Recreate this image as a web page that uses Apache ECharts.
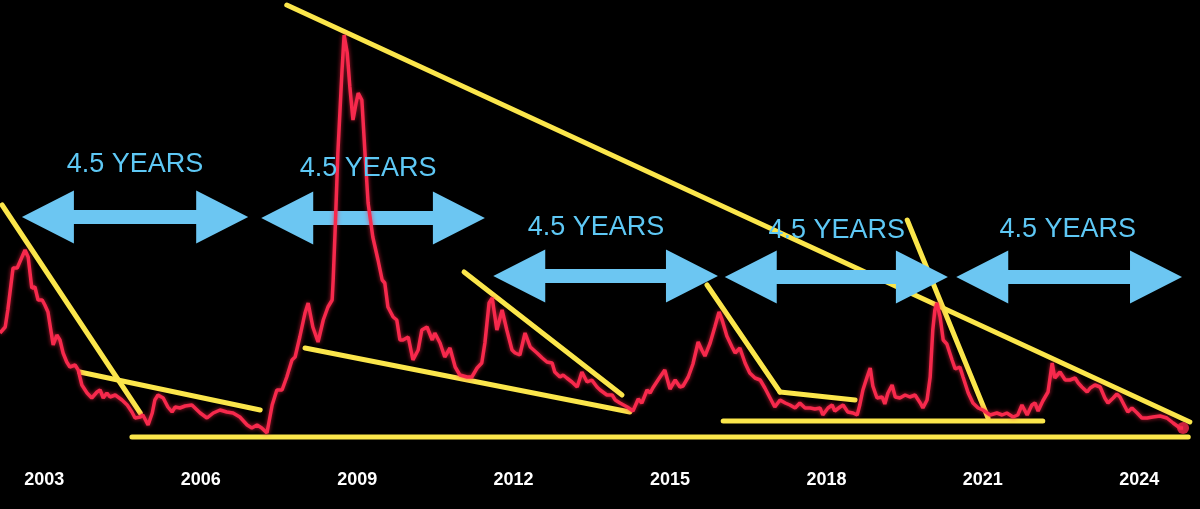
<!DOCTYPE html>
<html>
<head>
<meta charset="utf-8">
<script src="https://cdn.jsdelivr.net/npm/echarts@6/dist/echarts.min.js"></script>
<style>
  html, body { margin: 0; padding: 0; background: #000; }
  #chart { width: 1200px; height: 509px; }
</style>
</head>
<body>
<div id="chart"></div>
<script>
// Decimal years of the traced series
const dates = [
  2002.15,2002.25,2002.30,2002.40,2002.48,2002.53,2002.63,2002.69,2002.76,2002.82,2002.88,2002.96,
  2003.01,2003.07,2003.17,2003.24,2003.30,2003.36,2003.43,2003.49,2003.59,2003.65,2003.72,2003.82,2003.91,
  2004.01,2004.07,2004.13,2004.20,2004.26,2004.36,2004.49,2004.59,2004.68,2004.74,2004.84,2004.89,2004.99,
  2005.07,2005.12,2005.18,2005.28,2005.37,2005.45,2005.51,2005.60,2005.70,2005.83,2005.93,2005.99,
  2006.12,2006.24,2006.37,2006.50,2006.62,2006.75,2006.89,2006.98,
  2007.08,2007.17,2007.27,2007.37,2007.46,2007.56,2007.65,2007.75,2007.81,2007.90,
  2008.00,2008.06,2008.15,2008.25,2008.35,2008.44,2008.52,2008.54,2008.58,2008.63,2008.71,2008.75,2008.81,2008.86,2008.92,2008.98,
  2009.02,2009.09,2009.15,2009.21,2009.30,2009.40,2009.48,2009.53,2009.59,2009.69,2009.76,2009.82,2009.88,2009.98,
  2010.07,2010.17,2010.24,2010.34,2010.44,2010.49,2010.59,2010.68,2010.78,2010.88,2010.97,
  2011.11,2011.20,2011.30,2011.39,2011.45,2011.53,2011.59,2011.68,2011.78,2011.87,2011.97,
  2012.03,2012.12,2012.22,2012.32,2012.45,2012.55,2012.64,2012.74,2012.79,2012.89,2012.95,
  2013.02,2013.12,2013.22,2013.31,2013.41,2013.50,2013.60,2013.66,2013.79,2013.89,2013.95,
  2014.04,2014.18,2014.29,2014.39,2014.46,2014.56,2014.62,2014.67,2014.77,2014.90,
  2015.00,2015.10,2015.19,2015.25,2015.35,2015.44,2015.54,2015.61,2015.67,2015.77,2015.86,2015.94,
  2016.00,2016.09,2016.19,2016.25,2016.34,2016.44,2016.53,2016.63,2016.73,2016.82,2016.92,
  2017.01,2017.11,2017.21,2017.30,2017.40,2017.49,2017.59,2017.69,2017.78,2017.88,2017.93,
  2018.03,2018.11,2018.16,2018.26,2018.32,2018.41,2018.51,2018.59,2018.64,2018.70,2018.78,2018.84,2018.89,2018.97,
  2019.07,2019.12,2019.18,2019.26,2019.32,2019.41,2019.51,2019.60,2019.70,2019.80,2019.85,2019.93,2019.99,
  2020.04,2020.08,2020.12,2020.18,2020.24,2020.31,2020.41,2020.47,2020.56,2020.62,2020.72,2020.81,2020.91,
  2021.00,2021.14,2021.27,2021.37,2021.46,2021.58,2021.67,2021.75,2021.85,2021.94,
  2022.00,2022.06,2022.15,2022.25,2022.33,2022.38,2022.48,2022.58,2022.67,2022.77,2022.83,2022.90,
  2023.00,2023.06,2023.15,2023.25,2023.34,2023.40,2023.50,2023.57,2023.63,2023.73,2023.78,2023.86,2023.96,
  2024.05,2024.15,2024.26,2024.40,2024.53,2024.65,2024.78,2024.84
];
const values = [
  7.35,7.65,8.5,10.6,10.6,10.9,11.5,11.15,9.6,9.65,9.0,9.0,
  8.75,8.4,6.75,7.25,7.0,6.35,5.9,5.65,5.75,5.5,4.75,4.35,4.1,
  4.4,4.5,4.1,4.35,4.15,4.25,4.0,3.75,3.4,3.1,3.15,3.25,2.75,
  3.35,4.0,4.25,4.1,3.65,3.4,3.65,3.6,3.7,3.75,3.5,3.35,
  3.1,3.35,3.5,3.4,3.35,3.15,2.75,2.6,
  2.75,2.6,2.35,3.75,4.5,4.5,5.15,6.0,6.15,7.15,
  8.35,8.85,7.65,6.9,8.0,8.65,9.0,10.0,12.65,16.35,20.5,22.25,21.35,19.65,18.0,18.85,
  19.35,19.0,16.35,13.85,12.15,11.0,10.0,9.85,8.65,8.15,8.0,7.0,7.0,7.15,
  6.0,6.5,7.5,7.65,7.0,7.35,6.85,6.15,6.6,5.65,5.25,
  5.15,5.15,5.6,5.85,6.85,8.85,9.1,7.5,8.5,7.5,6.5,
  6.35,6.25,7.35,6.65,6.35,6.1,5.9,5.85,5.4,5.15,5.25,
  5.1,4.9,4.65,5.4,4.9,5.0,4.65,4.5,4.25,4.25,4.0,
  3.85,3.65,3.45,4.05,3.85,4.5,4.35,4.6,5.0,5.5,
  4.55,5.0,4.65,4.7,5.15,5.8,6.9,6.5,6.2,6.85,7.65,8.4,
  8.0,7.2,6.65,6.35,6.6,5.85,5.35,5.1,5.0,4.6,4.1,
  3.65,4.0,3.85,3.75,3.6,3.85,3.6,3.6,3.55,3.6,3.25,
  3.6,3.75,3.45,3.65,3.75,3.4,3.35,3.25,3.75,4.5,5.15,5.6,4.7,4.1,
  4.15,3.8,4.35,4.75,4.15,4.1,4.25,4.15,4.25,3.85,3.6,4.0,5.15,
  7.5,8.5,8.85,8.15,7.0,6.8,6.0,5.55,5.65,5.15,4.35,3.85,3.6,
  3.5,3.25,3.35,3.25,3.35,3.15,3.25,3.75,3.25,3.75,
  3.85,3.45,3.95,4.4,5.85,5.1,5.4,5.0,5.0,5.1,4.85,4.65,
  4.4,4.6,4.75,4.65,4.1,3.85,4.1,4.3,4.15,3.65,3.4,3.6,3.35,
  3.1,3.1,3.15,3.2,3.1,2.85,2.6,2.6
];
const yearTicks = [2003, 2006, 2009, 2012, 2015, 2018, 2021, 2024];

// Hand-drawn trend lines: [startYear, startValue, endYear, endValue]
const trendLines = [
  [2002.19, 13.75, 2004.84, 3.35],
  [2003.68, 5.4, 2007.14, 3.5],
  [2004.68, 2.15, 2024.94, 2.15],
  [2007.65, 23.75, 2024.97, 2.9],
  [2008.00, 6.6, 2014.23, 3.4],
  [2011.05, 10.4, 2014.08, 4.25],
  [2015.71, 9.75, 2017.11, 4.4],
  [2017.11, 4.4, 2018.55, 4.0],
  [2016.02, 2.95, 2022.15, 2.95],
  [2019.55, 13.0, 2021.10, 3.1]
];
// Double arrows: [fromYear, toYear, level]
const arrows = [
  [2002.57, 2006.91, 13.15],
  [2007.16, 2011.45, 13.1],
  [2011.61, 2015.92, 10.2],
  [2016.05, 2020.33, 10.15],
  [2020.49, 2024.82, 10.15]
];
// Arrow captions: [centerYear, level]
const captionText = '4.5 YEARS';
const captions = [
  [2004.74, 15.75],
  [2009.21, 15.55],
  [2013.58, 12.6],
  [2018.20, 12.45],
  [2022.63, 12.5]
];

const seriesData = dates.map((d, i) => [d, values[i]]);
const lastPoint = [[dates[dates.length - 1], values[values.length - 1]]];

const chart = echarts.init(document.getElementById('chart'));
chart.setOption({
  backgroundColor: '#000000',
  animation: false,
  grid: { left: 0, right: 0, top: 0, bottom: 69 },
  xAxis: {
    type: 'value',
    min: 2002.15,
    max: 2025.165,
    axisLine: { show: false },
    axisTick: { show: false },
    splitLine: { show: false },
    axisLabel: {
      customValues: yearTicks,
      formatter: v => String(Math.round(v)),
      color: '#ffffff',
      fontFamily: 'Liberation Sans, Arial, sans-serif',
      fontWeight: 'bold',
      fontSize: 18,
      margin: 31
    }
  },
  yAxis: {
    type: 'value',
    min: 2,
    max: 24,
    show: false,
    splitLine: { show: false }
  },
  series: [
    {
      type: 'custom',
      z: 2,
      silent: true,
      data: trendLines,
      renderItem: (params, api) => {
        const a = api.coord([api.value(0), api.value(1)]);
        const b = api.coord([api.value(2), api.value(3)]);
        return {
          type: 'line',
          shape: { x1: a[0], y1: a[1], x2: b[0], y2: b[1] },
          style: { stroke: '#FBE64B', lineWidth: 5, lineCap: 'round' }
        };
      }
    },
    {
      type: 'custom',
      z: 3,
      silent: true,
      data: arrows,
      renderItem: (params, api) => {
        const a = api.coord([api.value(0), api.value(2)]);
        const b = api.coord([api.value(1), api.value(2)]);
        const y = a[1], x1 = a[0], x2 = b[0];
        const H = 52, h = 26.5, s = 7;
        return {
          type: 'polygon',
          shape: {
            points: [
              [x1, y], [x1 + H, y - h], [x1 + H, y - s], [x2 - H, y - s], [x2 - H, y - h],
              [x2, y], [x2 - H, y + h], [x2 - H, y + s], [x1 + H, y + s], [x1 + H, y + h]
            ]
          },
          style: { fill: '#6CC6F2' }
        };
      }
    },
    {
      type: 'line',
      z: 4,
      data: seriesData,
      showSymbol: false,
      smooth: false,
      lineStyle: {
        color: '#F7294C',
        width: 3.5,
        shadowColor: 'rgba(255,40,70,0.7)',
        shadowBlur: 4
      }
    },
    {
      type: 'scatter',
      z: 5,
      data: lastPoint,
      symbolSize: 12,
      itemStyle: { color: '#F7294C' }
    },
    {
      type: 'custom',
      z: 6,
      silent: true,
      data: captions,
      renderItem: (params, api) => {
        const p = api.coord([api.value(0), api.value(1)]);
        return {
          type: 'text',
          x: p[0],
          y: p[1],
          style: {
            text: captionText,
            fill: '#5EC8F5',
            font: 'normal 27px "Liberation Sans", Arial, sans-serif',
            textAlign: 'center',
            textVerticalAlign: 'middle'
          }
        };
      }
    }
  ]
});
</script>
</body>
</html>
